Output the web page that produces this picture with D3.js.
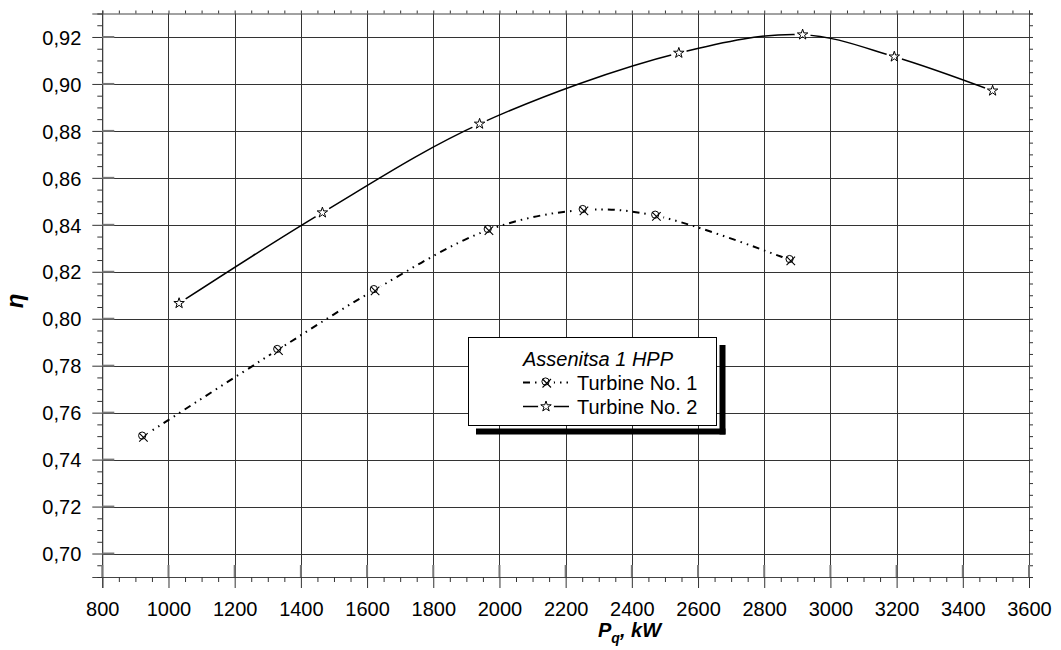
<!DOCTYPE html>
<html><head><meta charset="utf-8">
<script src="https://cdn.jsdelivr.net/npm/d3@7"></script>
<style>body{margin:0;background:#fff} text{font-family:"Liberation Sans",Arial,sans-serif}</style>
</head><body><svg id="c" width="1061" height="650"></svg>
<script>
// ---- data ----
const t1X=[922,1330,1622,1966,2253,2472,2878];
const t1Y=[0.7498,0.7867,0.8122,0.8378,0.8463,0.8439,0.8250];
const t2X=[1032,1465,1940,2542,2916,3193,3490];
const t2Y=[0.8066,0.8452,0.8830,0.9132,0.9210,0.9116,0.8971];
const xTicks=[800,1000,1200,1400,1600,1800,2000,2200,2400,2600,2800,3000,3200,3400,3600];
const yTicks=[0.70,0.72,0.74,0.76,0.78,0.80,0.82,0.84,0.86,0.88,0.90,0.92];
const legendTitle="Assenitsa 1 HPP";
const seriesNames=["Turbine No. 1","Turbine No. 2"];

const svg=d3.select("#c");
const L=102.3,R=1029,T=13.5,B=577;
const x=d3.scaleLinear().domain([800,3600]).range([L,R]);
const y=d3.scaleLinear().domain([0.69,0.93]).range([B,T]);
const loc=d3.formatLocale({decimal:",",thousands:"",grouping:[3],currency:["",""]});
const fy=loc.format(".2f");

const xMinor=d3.range(800,3601,50).filter(v=>v%200!==0);
const yMinor=d3.range(0,49).map(i=>+(0.69+i*0.005).toFixed(3)).filter(v=>!yTicks.some(t=>Math.abs(t-v)<1e-6));

// gridlines
const g=svg.append("g");
g.selectAll(".gx").data(xTicks).join("line")
 .attr("x1",d=>Math.round(x(d))+0.5).attr("x2",d=>Math.round(x(d))+0.5)
 .attr("y1",T).attr("y2",B).attr("stroke","#333").attr("stroke-width",1);
g.selectAll(".gy").data(yTicks).join("line")
 .attr("y1",d=>Math.round(y(d))+0.5).attr("y2",d=>Math.round(y(d))+0.5)
 .attr("x1",L).attr("x2",R).attr("stroke","#333").attr("stroke-width",1);

function styleAxis(sel){
  sel.select(".domain").attr("stroke","#444");
  sel.selectAll(".tick line").attr("stroke","#333");
  sel.selectAll("text").attr("font-size",20).attr("fill","#000")
    .style("font-family",'"Liberation Sans",Arial,sans-serif');
}
// bottom axis
const ax=svg.append("g").attr("transform",`translate(0,${B})`)
 .call(d3.axisBottom(x).tickValues(xTicks).tickSize(11).tickPadding(14).tickFormat(d3.format("d")));
styleAxis(ax);
svg.append("g").attr("transform",`translate(0,${B})`)
 .call(d3.axisBottom(x).tickValues(xMinor).tickSize(5).tickFormat(""))
 .call(s=>{s.select(".domain").remove();s.selectAll("line").attr("stroke","#333");});
// top axis
const at=svg.append("g").attr("transform",`translate(0,${T})`)
 .call(d3.axisTop(x).tickValues(xTicks.concat(xMinor)).tickSize(3).tickFormat(""));
styleAxis(at);
// left axis
const ay=svg.append("g").attr("transform",`translate(${L},0)`)
 .call(d3.axisLeft(y).tickValues(yTicks).tickSize(10).tickPadding(11).tickFormat(fy));
styleAxis(ay);
ay.selectAll("text").attr("dy","0.36em");
svg.append("g").attr("transform",`translate(${L},0)`)
 .call(d3.axisLeft(y).tickValues(yMinor).tickSize(5).tickFormat(""))
 .call(s=>{s.select(".domain").remove();s.selectAll("line").attr("stroke","#333");});
// right axis
const ar=svg.append("g").attr("transform",`translate(${R},0)`)
 .call(d3.axisRight(y).tickValues(yTicks.concat(yMinor)).tickSize(4).tickFormat(""));
styleAxis(ar);

// inner major ticks (thicker gray)
svg.append("g").selectAll("line").data(yTicks).join("line")
 .attr("x1",L).attr("x2",L+12).attr("y1",d=>y(d)).attr("y2",d=>y(d))
 .attr("stroke","#777").attr("stroke-width",2);
svg.append("g").selectAll("line").data(xTicks).join("line")
 .attr("x1",d=>x(d)).attr("x2",d=>x(d)).attr("y1",B).attr("y2",B-12)
 .attr("stroke","#777").attr("stroke-width",2);

// series
const s1=t1X.map((v,i)=>[v,t1Y[i]]);
const s2=t2X.map((v,i)=>[v,t2Y[i]]);
const line=d3.line().x(d=>x(d[0])).y(d=>y(d[1])).curve(d3.curveCatmullRom.alpha(0.5));

const defs=svg.append("defs");
function makeMask(id,pts){
  const m=defs.append("mask").attr("id",id).attr("maskUnits","userSpaceOnUse")
   .attr("x",0).attr("y",0).attr("width",1061).attr("height",650);
  m.append("rect").attr("width",1061).attr("height",650).attr("fill","#fff");
  m.selectAll("circle").data(pts).join("circle").attr("cx",d=>d[0]).attr("cy",d=>d[1]).attr("r",8).attr("fill","#000");
}
makeMask("m1",s1.map(d=>[x(d[0]),y(d[1])]));
makeMask("m2",s2.map(d=>[x(d[0]),y(d[1])]));

const dash1="7,5,1.5,5,1.5,5";
svg.append("path").datum(s1).attr("d",line).attr("fill","none").attr("stroke","#000")
 .attr("stroke-width",2).attr("stroke-dasharray",dash1).attr("mask","url(#m1)");
svg.append("path").datum(s2).attr("d",line).attr("fill","none").attr("stroke","#000")
 .attr("stroke-width",1.5).attr("mask","url(#m2)");

function crossMarker(sel){
  sel.append("circle").attr("cx",-0.5).attr("cy",-1).attr("r",3.6).attr("fill","none").attr("stroke","#000").attr("stroke-width",1);
  sel.append("path").attr("d","M-3.5,-3.5L5,5M5,-3.5L-3.5,5").attr("stroke","#000").attr("stroke-width",1.1).attr("fill","none");
}
const star=d3.symbol().type(d3.symbolStar).size(34);
svg.append("g").selectAll("g").data(s1).join("g")
 .attr("transform",d=>`translate(${x(d[0])},${y(d[1])})`).each(function(){crossMarker(d3.select(this));});
svg.append("g").selectAll("path").data(s2).join("path")
 .attr("transform",d=>`translate(${x(d[0])},${y(d[1])})`).attr("d",star)
 .attr("fill","#fff").attr("stroke","#000").attr("stroke-width",1);

// legend
const lg=svg.append("g");
lg.append("rect").attr("x",719.5).attr("y",345).attr("width",6).attr("height",89.5).attr("fill","#000");
lg.append("rect").attr("x",476).attr("y",428.5).attr("width",249.5).attr("height",6).attr("fill","#000");
lg.append("rect").attr("x",468.5).attr("y",337.5).attr("width",248).attr("height",88).attr("fill","#fff").attr("stroke","#000").attr("stroke-width",1);
lg.append("text").attr("x",598).attr("y",366).attr("text-anchor","middle").attr("font-size",20).attr("font-style","italic").text(legendTitle);
makeMask("ml1",[[546,382.5]]);
makeMask("ml2",[[546,406.5]]);
lg.append("line").attr("x1",523).attr("x2",569).attr("y1",382.5).attr("y2",382.5).attr("stroke","#000").attr("stroke-width",2).attr("stroke-dasharray",dash1).attr("mask","url(#ml1)");
lg.append("g").attr("transform","translate(546,382.5)").call(crossMarker);
lg.append("line").attr("x1",523).attr("x2",569).attr("y1",406.5).attr("y2",406.5).attr("stroke","#000").attr("stroke-width",1.5).attr("mask","url(#ml2)");
lg.append("path").attr("transform","translate(546,406.5)").attr("d",star).attr("fill","#fff").attr("stroke","#000");
lg.append("text").attr("x",577).attr("y",389.5).attr("font-size",20).text(seriesNames[0]);
lg.append("text").attr("x",577).attr("y",413.5).attr("font-size",20).text(seriesNames[1]);

// axis titles
svg.append("text").attr("transform","translate(23,301) rotate(-90)").attr("text-anchor","middle")
 .attr("font-size",24).attr("font-weight","bold").attr("font-style","italic").text("η");
const xt=svg.append("text").attr("x",598).attr("y",637).attr("font-size",20).attr("font-weight","bold").attr("font-style","italic");
xt.append("tspan").text("P");
xt.append("tspan").attr("font-size",14).attr("dy",6).text("q");
xt.append("tspan").attr("dy",-6).text(", kW");
</script></body></html>
